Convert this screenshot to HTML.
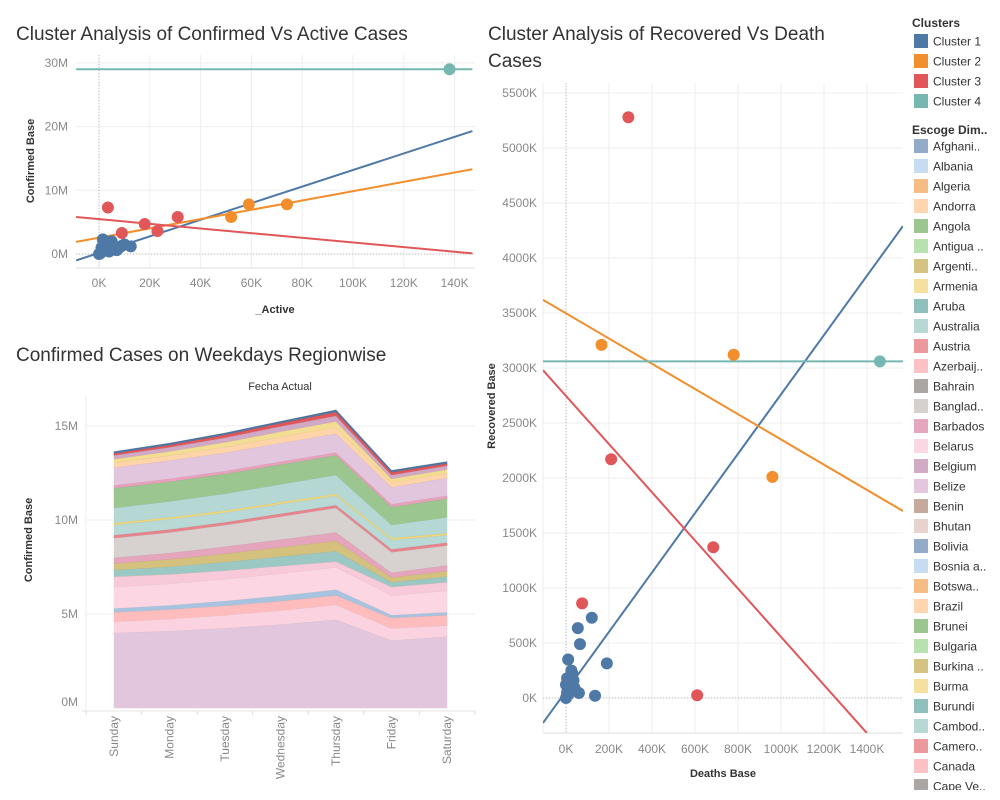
<!DOCTYPE html>
<html><head><meta charset="utf-8"><style>
html,body{margin:0;padding:0;background:#fff;width:1000px;height:800px;overflow:hidden}
svg{display:block;font-family:"Liberation Sans",sans-serif}
.tick{font-size:12px;fill:#888}
.ttl{font-size:19px;fill:#333}
.axt{font-size:11px;fill:#333}
.leg{font-size:12px;fill:#333}
</style></head><body>
<svg id="root" width="1000" height="800" viewBox="0 0 1000 800"></svg>
<script>
// ---------- Chart 1: Confirmed vs Active ----------
const c1Xticks=[0,20000,40000,60000,80000,100000,120000,140000];
const c1Xlabels=["0K","20K","40K","60K","80K","100K","120K","140K"];
const c1Yticks=[0,10e6,20e6,30e6];
const c1Ylabels=["0M","10M","20M","30M"];
const c1Cluster1=[[0,0],[1000,300000],[2000,500000],[1000,1000000],[3000,1500000],[1500,2300000],[4000,1800000],[5000,1200000],[3000,800000],[6000,900000],[8000,1000000],[9000,1300000],[12500,1200000],[7000,600000],[2000,1900000],[4000,400000],[500,100000],[10000,1500000],[2500,1200000],[5000,2000000]];
const c1Cluster2=[[52000,5800000],[59000,7800000],[74000,7800000]];
const c1Cluster3=[[3500,7300000],[9000,3300000],[18000,4700000],[23000,3600000],[31000,5800000]];
const c1Cluster4=[[138000,29000000]];
const c1Trend1=[[-9000,-1000000],[147000,19300000]];
const c1Trend2=[[-9000,1900000],[147000,13300000]];
const c1Trend3=[[-9000,5800000],[147000,100000]];
const c1Trend4=[[-9000,29000000],[147000,29000000]];

// ---------- Chart 2: stacked area ----------
const days=["Sunday","Monday","Tuesday","Wednesday","Thursday","Friday","Saturday"];
const c2Yticks=[0,5e6,10e6,15e6];
const c2Ylabels=["0M","5M","10M","15M"];
const layerColors=["#e2c6dd","#fbd3e0","#ffbcbc","#a6c4df","#fcd6e2","#f8c9d8","#9cc8c3","#d4c17e","#e4a5bd","#d7d2cf","#e8838c","#b8d9d6","#f0d87a","#b5d8d5","#9bc690","#e8a0bb","#e2c6dd","#ffd4a8","#f3dd92","#cfa9c6","#e15759","#4e79a7"];
const layerValues=[
[4.0e6,4.1e6,4.25e6,4.45e6,4.7e6,3.6e6,3.8e6],
[0.6e6,0.65e6,0.7e6,0.75e6,0.8e6,0.65e6,0.6e6],
[0.5e6,0.5e6,0.5e6,0.5e6,0.5e6,0.55e6,0.55e6],
[0.2e6,0.22e6,0.25e6,0.28e6,0.3e6,0.15e6,0.15e6],
[1.15e6,1.15e6,1.17e6,1.18e6,1.2e6,1.05e6,1.15e6],
[0.55e6,0.5e6,0.45e6,0.4e6,0.3e6,0.45e6,0.45e6],
[0.35e6,0.4e6,0.45e6,0.5e6,0.55e6,0.25e6,0.3e6],
[0.35e6,0.4e6,0.45e6,0.5e6,0.55e6,0.25e6,0.3e6],
[0.3e6,0.33e6,0.37e6,0.41e6,0.45e6,0.25e6,0.3e6],
[1.05e6,1.1e6,1.15e6,1.22e6,1.3e6,1.1e6,1.05e6],
[0.15e6,0.15e6,0.15e6,0.15e6,0.15e6,0.15e6,0.15e6],
[0.55e6,0.55e6,0.52e6,0.52e6,0.5e6,0.5e6,0.4e6],
[0.1e6,0.1e6,0.1e6,0.1e6,0.1e6,0.1e6,0.1e6],
[0.8e6,0.85e6,0.9e6,0.95e6,1.0e6,0.7e6,0.85e6],
[1.05e6,1.05e6,1.05e6,1.05e6,1.05e6,0.95e6,1.0e6],
[0.15e6,0.15e6,0.15e6,0.15e6,0.15e6,0.15e6,0.15e6],
[0.95e6,0.97e6,0.98e6,0.99e6,1.0e6,0.9e6,0.95e6],
[0.25e6,0.27e6,0.3e6,0.33e6,0.35e6,0.25e6,0.25e6],
[0.2e6,0.22e6,0.25e6,0.28e6,0.3e6,0.2e6,0.2e6],
[0.2e6,0.22e6,0.25e6,0.28e6,0.3e6,0.2e6,0.2e6],
[0.1e6,0.12e6,0.15e6,0.17e6,0.2e6,0.15e6,0.12e6],
[0.08e6,0.08e6,0.08e6,0.08e6,0.1e6,0.08e6,0.08e6]
];

// ---------- Chart 3: Recovered vs Deaths ----------
const c3Xticks=[0,200,400,600,800,1000,1200,1400];
const c3Xlabels=["0K","200K","400K","600K","800K","1000K","1200K","1400K"];
const c3Yticks=[0,500,1000,1500,2000,2500,3000,3500,4000,4500,5000,5500];
const c3Ylabels=["0K","500K","1000K","1500K","2000K","2500K","3000K","3500K","4000K","4500K","5000K","5500K"];
const c3Cluster1=[[55,635],[120,730],[65,490],[10,350],[190,315],[135,20],[60,45],[0,0],[5,50],[10,100],[15,150],[20,200],[25,250],[30,220],[0,120],[5,180],[10,30],[35,160],[40,90],[20,60]];
const c3Cluster2=[[165,3210],[780,3120],[960,2010]];
const c3Cluster3=[[290,5280],[75,860],[210,2170],[685,1370],[610,25]];
const c3Cluster4=[[1460,3060]];
const c3Trend1=[[-107,-227],[1567,4290]];
const c3Trend2=[[-107,3620],[1567,1700]];
const c3Trend3=[[-107,2980],[1400,-320]];
const c3Trend4=[[-107,3060],[1567,3060]];

const clusterNames=["Cluster 1","Cluster 2","Cluster 3","Cluster 4"];
const clusterColors=["#4e79a7","#f28e2b","#e15759","#76b7b2"];
const countries=["Afghani..","Albania","Algeria","Andorra","Angola","Antigua ..","Argenti..","Armenia","Aruba","Australia","Austria","Azerbaij..","Bahrain","Banglad..","Barbados","Belarus","Belgium","Belize","Benin","Bhutan","Bolivia","Bosnia a..","Botswa..","Brazil","Brunei","Bulgaria","Burkina ..","Burma","Burundi","Cambod..","Camero..","Canada","Cape Ve.."];
const countryColors=["#93aac9","#c6dcf0","#f7bb84","#ffd6b0","#9cc68f","#b8e1b0","#d5c481","#f5e0a0","#8fc0bd","#b8d8d6","#ec999b","#fcc2c3","#aba6a4","#d6d1cf","#e5a7bd","#fbd6e3","#d1abc6","#e5c7dd","#c4aa9d","#e6d3cc","#93aac9","#c6dcf0","#f7bb84","#ffd6b0","#9cc68f","#b8e1b0","#d5c481","#f5e0a0","#8fc0bd","#b8d8d6","#ec999b","#fcc2c3","#aba6a4"];

const NS="http://www.w3.org/2000/svg";
const root=document.getElementById('root');
function mk(tag,attrs,parent,text){const e=document.createElementNS(NS,tag);for(const k in attrs)e.setAttribute(k,attrs[k]);if(text!==undefined)e.textContent=text;(parent||root).appendChild(e);return e;}
function lin(d0,d1,r0,r1){return v=>r0+(v-d0)/(d1-d0)*(r1-r0);}

// ===== Chart 1 =====
(function(){
const g=mk('g',{});


const L=76,R=475,T=55,B=268;
const x=lin(0,20000,99,149.8), y=lin(0,10e6,254,190.3);
const t=mk('text',{x:16,y:40,class:'ttl'},g,'Cluster Analysis of Confirmed Vs Active Cases');

c1Xticks.forEach((v,i)=>{mk('line',{x1:x(v),x2:x(v),y1:T,y2:B,stroke:'#eee'},g);
 const lb=mk('text',{x:x(v),y:B+19,class:'tick','text-anchor':'middle'},g,c1Xlabels[i]);
 });
c1Yticks.forEach((v,i)=>{mk('line',{x1:L,x2:R,y1:y(v),y2:y(v),stroke:'#eee'},g);
 const lb=mk('text',{x:L-8,y:y(v)+4,class:'tick','text-anchor':'end'},g,c1Ylabels[i]);
 });
mk('line',{x1:x(0),x2:x(0),y1:T,y2:B,stroke:'#bbb','stroke-dasharray':'1,2'},g);
mk('line',{x1:L,x2:R,y1:y(0),y2:y(0),stroke:'#bbb','stroke-dasharray':'1,2'},g);
mk('line',{x1:L,x2:R,y1:B,y2:B,stroke:'#ddd'},g);
const cp=mk('clipPath',{id:'c1clip'},g);mk('rect',{x:L,y:T,width:R-L,height:B-T},cp);
const pg=mk('g',{'clip-path':'url(#c1clip)'},g);
[c1Trend1,c1Trend2,c1Trend3,c1Trend4].forEach((tr,i)=>{const l=mk('line',{x1:x(tr[0][0]),y1:y(tr[0][1]),x2:x(tr[1][0]),y2:y(tr[1][1]),stroke:clusterColors[i],'stroke-width':2},pg);
 });
[c1Cluster1,c1Cluster2,c1Cluster3,c1Cluster4].forEach((pts,i)=>pts.forEach(p=>{const c=mk('circle',{cx:x(p[0]),cy:y(p[1]),r:6,fill:clusterColors[i]},pg);
 }));
const ya=mk('text',{x:34,y:161,class:'axt','text-anchor':'middle',transform:'rotate(-90 34 161)','font-weight':'bold'},g,'Confirmed Base');

const xa=mk('text',{x:275,y:313,class:'axt','text-anchor':'middle','font-weight':'bold'},g,'_Active');

})();

// ===== Chart 2 =====
(function(){
const g=mk('g',{});


const L=86,R=475,T=395,B=708;
const x=i=>114+i*55.5, y=lin(0,5e6,708,614);
const t=mk('text',{x:16,y:361,class:'ttl'},g,'Confirmed Cases on Weekdays Regionwise');

const h=mk('text',{x:280,y:390,class:'axt','text-anchor':'middle'},g,'Fecha Actual');

mk('line',{x1:L,x2:L,y1:T,y2:B+5,stroke:'#eee'},g);
c2Yticks.forEach((v,i)=>{if(v>0)mk('line',{x1:L,x2:R,y1:y(v),y2:y(v),stroke:'#eee'},g);
 const lb=mk('text',{x:L-8,y:y(v)+4-(v===0?6:0),class:'tick','text-anchor':'end'},g,c2Ylabels[i]);
 });
mk('line',{x1:L-5,x2:R,y1:B+3,y2:B+3,stroke:'#e6e6e6'},g);
days.forEach((d,i)=>{mk('line',{x1:x(i)-27.75,x2:x(i)-27.75,y1:B+3,y2:B+7,stroke:'#ddd'},g);
 const lb=mk('text',{x:x(i)+4,y:B+8,class:'tick','text-anchor':'end',transform:`rotate(-90 ${x(i)+4} ${B+8})`},g,d);
 });
mk('line',{x1:R,x2:R,y1:B+3,y2:B+7,stroke:'#ddd'},g);
const cum=days.map(()=>0);
layerValues.forEach((vals,li)=>{
 const lo=cum.slice(); vals.forEach((v,i)=>cum[i]+=v);
 let d='M'+days.map((_,i)=>x(i)+','+y(cum[i])).join('L')+'L'+days.map((_,i)=>x(6-i)+','+y(lo[6-i])).join('L')+'Z';
 const p=mk('path',{d:d,fill:layerColors[li],stroke:layerColors[li],'stroke-opacity':0.6,'stroke-width':0.8},g);
 
 const ln=mk('path',{d:'M'+days.map((_,i)=>x(i)+','+y(cum[i])).join('L'),fill:'none',stroke:'#000','stroke-opacity':0.12,'stroke-width':1},g);
});
const ya=mk('text',{x:32,y:540,class:'axt','text-anchor':'middle',transform:'rotate(-90 32 540)','font-weight':'bold'},g,'Confirmed Base');

})();

// ===== Chart 3 =====
(function(){
const g=mk('g',{});


const L=543,R=903,T=83,B=733;
const x=lin(0,200,566,609), y=lin(0,1000,698,588);
const t1=mk('text',{x:488,y:40,class:'ttl'},g,'Cluster Analysis of Recovered Vs Death');

const t2=mk('text',{x:488,y:67,class:'ttl'},g,'Cases');

c3Xticks.forEach((v,i)=>{mk('line',{x1:x(v),x2:x(v),y1:T,y2:B,stroke:'#eee'},g);
 const lb=mk('text',{x:x(v),y:B+20,class:'tick','text-anchor':'middle'},g,c3Xlabels[i]);
 });
c3Yticks.forEach((v,i)=>{mk('line',{x1:L,x2:R,y1:y(v),y2:y(v),stroke:'#eee'},g);
 const lb=mk('text',{x:L-6,y:y(v)+4,class:'tick','text-anchor':'end'},g,c3Ylabels[i]);
 });
mk('line',{x1:L,x2:L,y1:T,y2:B,stroke:'#eee'},g);
mk('line',{x1:x(0),x2:x(0),y1:T,y2:B,stroke:'#bbb','stroke-dasharray':'1,2'},g);
mk('line',{x1:L,x2:R,y1:y(0),y2:y(0),stroke:'#bbb','stroke-dasharray':'1,2'},g);
mk('line',{x1:L,x2:R,y1:B,y2:B,stroke:'#ddd'},g);
const cp=mk('clipPath',{id:'c3clip'},g);mk('rect',{x:L,y:T,width:R-L,height:B-T},cp);
const pg=mk('g',{'clip-path':'url(#c3clip)'},g);
[c3Trend1,c3Trend2,c3Trend3,c3Trend4].forEach((tr,i)=>{const l=mk('line',{x1:x(tr[0][0]),y1:y(tr[0][1]),x2:x(tr[1][0]),y2:y(tr[1][1]),stroke:clusterColors[i],'stroke-width':2},pg);
 });
[c3Cluster1,c3Cluster2,c3Cluster3,c3Cluster4].forEach((pts,i)=>pts.forEach(p=>{const c=mk('circle',{cx:x(p[0]),cy:y(p[1]),r:6,fill:clusterColors[i]},pg);
 }));
const ya=mk('text',{x:495,y:406,class:'axt','text-anchor':'middle',transform:'rotate(-90 495 406)','font-weight':'bold'},g,'Recovered Base');

const xa=mk('text',{x:723,y:777,class:'axt','text-anchor':'middle','font-weight':'bold'},g,'Deaths Base');

})();

// ===== Legend =====
(function(){
const g=mk('g',{});


const h1=mk('text',{x:912,y:27,class:'leg','font-weight':'bold'},g,'Clusters');

clusterNames.forEach((n,i)=>{const yy=34+i*20;
 const r=mk('rect',{x:914,y:yy,width:14,height:14,fill:clusterColors[i]},g);
 
 const tx=mk('text',{x:933,y:yy+11.5,class:'leg'},g,n);
 });
const h2=mk('text',{x:912,y:134,class:'leg','font-weight':'bold'},g,'Escoge Dim..');

countries.forEach((n,i)=>{const yy=139+i*20;
 const r=mk('rect',{x:914,y:yy,width:14,height:14,fill:countryColors[i]},g);
 
 const tx=mk('text',{x:933,y:yy+11.5,class:'leg'},g,n);
 });
mk('rect',{x:900,y:790,width:100,height:10,fill:'#fff'},g);
})();
</script>
</body></html>
